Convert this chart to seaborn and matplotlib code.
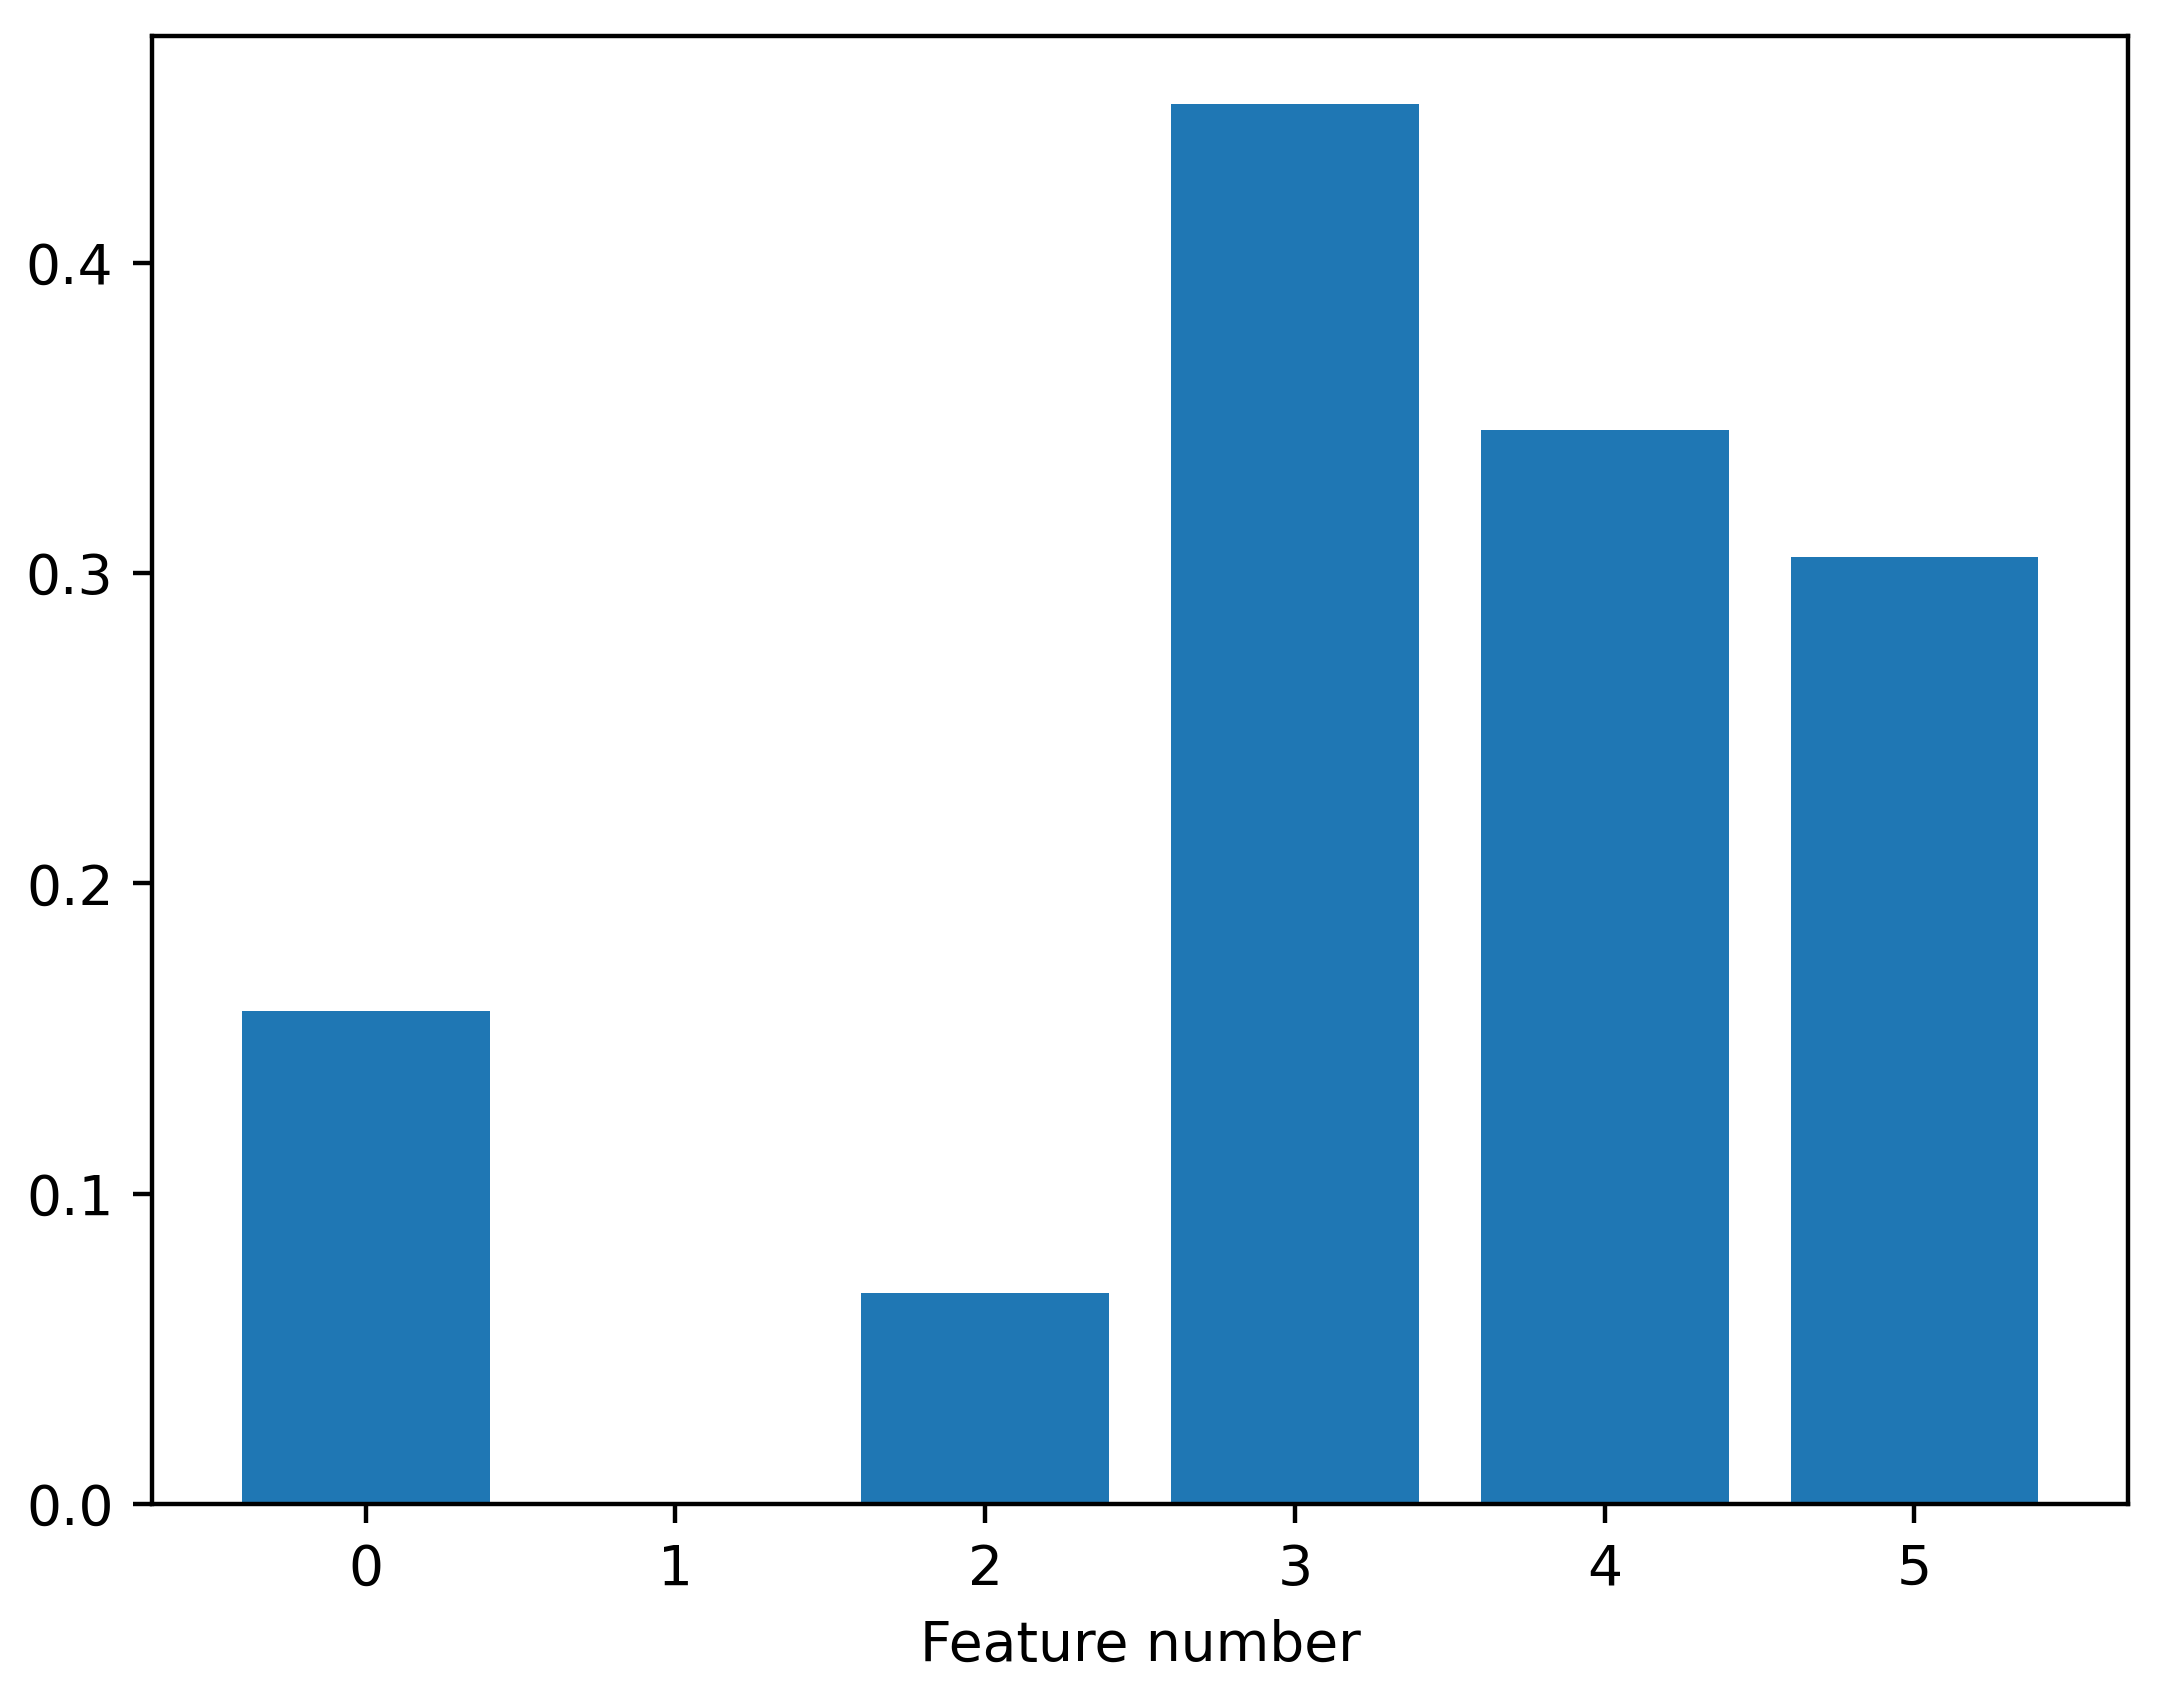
import matplotlib
matplotlib.use("Agg")
import matplotlib.pyplot as plt
import seaborn as sns
import pandas as pd

features = [0, 1, 2, 3, 4, 5]
importances = [0.159, 0.0, 0.068, 0.451, 0.346, 0.305]

df = pd.DataFrame({"feature": features, "importance": importances})

DPI = 397
fig = plt.figure(figsize=(2162.2 / DPI, 1696.2 / DPI), dpi=DPI)
ax = fig.add_axes([152 / 2162, 192 / 1696, 1976 / 2162, 1468 / 1696])

sns.barplot(data=df, x="feature", y="importance", color="#1f77b4",
            saturation=1, width=0.8, linewidth=0, ax=ax, native_scale=False)

ax.set_xlim(-0.69, 5.69)
ax.set_ylim(0, 0.4731)
ax.set_yticks([0.0, 0.1, 0.2, 0.3, 0.4])
ax.set_xlabel("Feature number")
ax.set_ylabel("")
ax.grid(False)
for s in ax.spines.values():
    s.set_visible(True)

fig.savefig("out.png", dpi=DPI)
